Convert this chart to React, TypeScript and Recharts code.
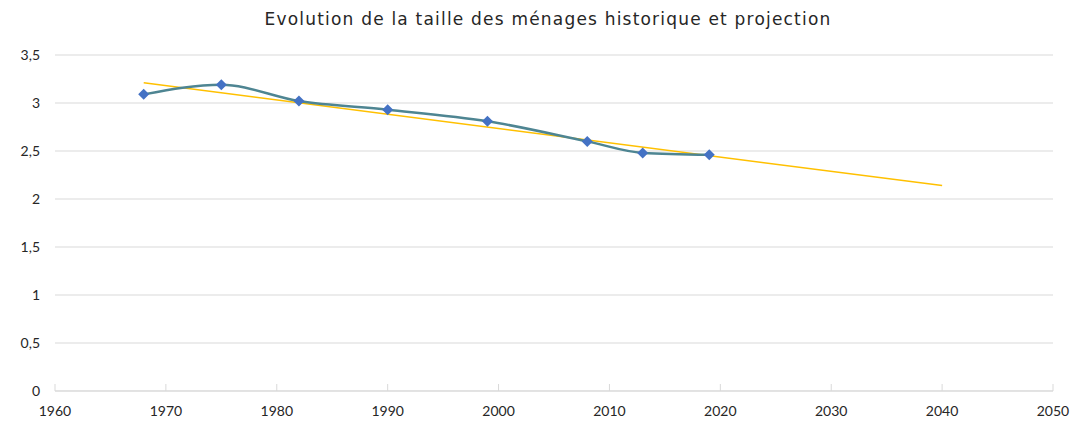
import {
  ComposedChart,
  Line,
  XAxis,
  YAxis,
  CartesianGrid,
} from "recharts"

const years = [1968, 1975, 1982, 1990, 1999, 2008, 2013, 2019]
const householdSize = [3.09, 3.19, 3.02, 2.93, 2.81, 2.6, 2.48, 2.46]

const trendYears = [1968, 2040]
const trendValues = [3.21, 2.14]

const xTicks = [1960, 1970, 1980, 1990, 2000, 2010, 2020, 2030, 2040, 2050]
const yTicks = [0, 0.5, 1, 1.5, 2, 2.5, 3, 3.5]

const historyData = years.map((year, i) => ({ year, size: householdSize[i] }))
const trendData = trendYears.map((year, i) => ({ year, trend: trendValues[i] }))

const FONT = "Lato, 'DejaVu Sans', sans-serif"

const Diamond = (props: any) => {
  const { cx, cy } = props
  if (cx == null || cy == null) return null
  const r = 5.5
  return (
    <polygon
      points={`${cx},${cy - r} ${cx + r},${cy} ${cx},${cy + r} ${cx - r},${cy}`}
      fill="#4472c4"
    />
  )
}

const XTick = (props: any) => {
  const { x, y, payload } = props
  return (
    <g>
      <line x1={x} x2={x} y1={y - 7} y2={y} stroke="#d9d9d9" />
      <text x={x} y={y + 25} textAnchor="middle" fontSize={14} fill="#262626" fontFamily={FONT}>
        {payload.value}
      </text>
    </g>
  )
}

export default function App() {
  return (
    <div style={{ position: "absolute", left: 0, top: 0, width: 1072, height: 422, background: "#fff" }}>
      <div
        style={{
          position: "absolute",
          top: 9,
          left: 0,
          width: 1096,
          textAlign: "center",
          fontFamily: "'DejaVu Sans', sans-serif",
          fontSize: 17,
          letterSpacing: 1.2,
          color: "#262626",
        }}
      >
        Evolution de la taille des ménages historique et projection
      </div>
      <ComposedChart
        width={1072}
        height={422}
        margin={{ top: 55, right: 19, bottom: 0, left: 0 }}
      >
        <CartesianGrid horizontal vertical={false} stroke="#d9d9d9" />
        <XAxis
          dataKey="year"
          type="number"
          domain={[1960, 2050]}
          ticks={xTicks}
          allowDataOverflow
          stroke="#d9d9d9"
          tickLine={false}
          tickSize={0}
          tickMargin={0}
          height={31}
          tick={<XTick />}
        />
        <YAxis
          type="number"
          domain={[0, 3.5]}
          ticks={yTicks}
          width={55}
          axisLine={false}
          tickLine={false}
          tickSize={0}
          tickMargin={15}
          tick={{ fontSize: 14, fill: "#262626", fontFamily: FONT }}
          tickFormatter={(v: number) => String(v).replace(".", ",")}
        />
        <Line
          data={trendData}
          dataKey="trend"
          type="linear"
          stroke="#ffc000"
          strokeWidth={1.5}
          dot={false}
          activeDot={false}
          isAnimationActive={false}
        />
        <Line
          data={historyData}
          dataKey="size"
          type="monotone"
          stroke="#4e8592"
          strokeWidth={2.5}
          dot={<Diamond />}
          activeDot={false}
          isAnimationActive={false}
        />
      </ComposedChart>
    </div>
  )
}
